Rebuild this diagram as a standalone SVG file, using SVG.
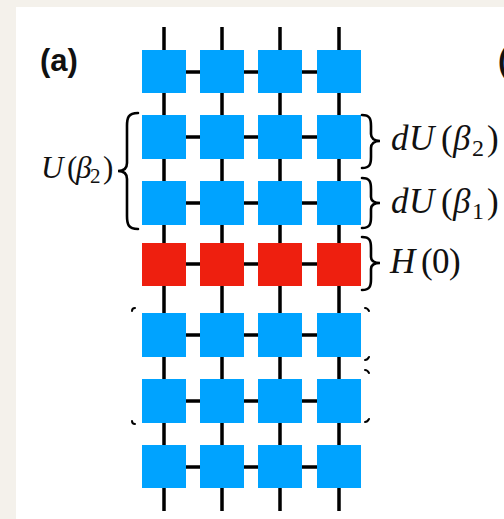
<svg xmlns="http://www.w3.org/2000/svg" width="504" height="519" viewBox="0 0 504 519">
<defs>
<style>
.wire{stroke:#000;stroke-width:3.5;fill:none}
.b{fill:#00A3FF}
.r{fill:#EE1F0F}
.brace{stroke:#000;stroke-width:2.6;fill:none;stroke-linecap:round}
.tick{stroke:#000;stroke-width:2;fill:none;stroke-linecap:round}
.m{font-family:"Liberation Serif",serif;fill:#111}
.it{font-style:italic}
.lab{font-family:"Liberation Sans",Arial,sans-serif;font-weight:bold;font-size:31px;fill:#111}
</style>
</defs>
<rect x="0" y="0" width="504" height="519" fill="#F4F1EB"/>
<rect x="16" y="7" width="488" height="512" fill="#FFFFFF"/>
<g id="connectors">
<path class="wire" d="M164,27V511M222,27V511M280,27V511M339,27V511"/>
<path class="wire" d="M186,72H200M244,72H258M302,72H317"/>
<path class="wire" d="M186,137H200M244,137H258M302,137H317"/>
<path class="wire" d="M186,203H200M244,203H258M302,203H317"/>
<path class="wire" d="M186,264H200M244,264H258M302,264H317"/>
<path class="wire" d="M186,335H200M244,335H258M302,335H317"/>
<path class="wire" d="M186,401H200M244,401H258M302,401H317"/>
<path class="wire" d="M186,467H200M244,467H258M302,467H317"/>
</g>
<g id="row1"><rect class="b" x="142" y="50" width="44" height="43"/><rect class="b" x="200" y="50" width="44" height="43"/><rect class="b" x="258" y="50" width="44" height="43"/><rect class="b" x="317" y="50" width="44" height="43"/></g>
<g id="row2"><rect class="b" x="142" y="115" width="44" height="44"/><rect class="b" x="200" y="115" width="44" height="44"/><rect class="b" x="258" y="115" width="44" height="44"/><rect class="b" x="317" y="115" width="44" height="44"/></g>
<g id="row3"><rect class="b" x="142" y="181" width="44" height="44"/><rect class="b" x="200" y="181" width="44" height="44"/><rect class="b" x="258" y="181" width="44" height="44"/><rect class="b" x="317" y="181" width="44" height="44"/></g>
<g id="row4"><rect class="r" x="142" y="243" width="44" height="43"/><rect class="r" x="200" y="243" width="44" height="43"/><rect class="r" x="258" y="243" width="44" height="43"/><rect class="r" x="317" y="243" width="44" height="43"/></g>
<g id="row5"><rect class="b" x="142" y="313" width="44" height="44"/><rect class="b" x="200" y="313" width="44" height="44"/><rect class="b" x="258" y="313" width="44" height="44"/><rect class="b" x="317" y="313" width="44" height="44"/></g>
<g id="row6"><rect class="b" x="142" y="379" width="44" height="44"/><rect class="b" x="200" y="379" width="44" height="44"/><rect class="b" x="258" y="379" width="44" height="44"/><rect class="b" x="317" y="379" width="44" height="44"/></g>
<g id="row7"><rect class="b" x="142" y="445" width="44" height="43"/><rect class="b" x="200" y="445" width="44" height="43"/><rect class="b" x="258" y="445" width="44" height="43"/><rect class="b" x="317" y="445" width="44" height="43"/></g>
<g id="label-a"><text class="lab" x="40" y="71">(a)</text><text class="lab" x="498" y="71">(</text></g>
<g id="brace-U">
<path class="brace" d="M138,113C128,113 127,118 127,126L127,163C127,168 124,171 118,171C124,171 127,174 127,179L127,216C127,224 128,229 138,229"/>
<text class="m" font-size="31" y="178"><tspan class="it" x="41">U</tspan><tspan x="67">(</tspan><tspan class="it" x="76">β</tspan><tspan x="90" dy="5" font-size="21">2</tspan><tspan x="103" dy="-5">)</tspan></text>
</g>
<g id="brace-dU2">
<path class="brace" d="M362,115C370,115 371,119 371,126L371,134C371,138 374,141 380,141C374,141 371,144 371,148L371,157C371,164 370,168 362,168"/>
<text class="m" font-size="35" y="150"><tspan class="it" x="391">d</tspan><tspan class="it" x="409">U</tspan><tspan x="441">(</tspan><tspan class="it" x="453">β</tspan><tspan x="472" dy="6" font-size="24">2</tspan><tspan x="487" dy="-6">)</tspan></text>
</g>
<g id="brace-dU1">
<path class="brace" d="M362,178C370,178 371,182 371,189L371,197C371,201 374,203 380,203C374,203 371,205 371,209L371,217C371,224 370,228 362,228"/>
<text class="m" font-size="35" y="213"><tspan class="it" x="391">d</tspan><tspan class="it" x="409">U</tspan><tspan x="441">(</tspan><tspan class="it" x="453">β</tspan><tspan x="472" dy="6" font-size="24">1</tspan><tspan x="487" dy="-6">)</tspan></text>
</g>
<g id="brace-H0">
<path class="brace" d="M362,237C370,237 371,241 371,248L371,257C371,261 374,263 380,263C374,263 371,265 371,269L371,279C371,286 370,290 362,290"/>
<text class="m" font-size="35" y="273"><tspan class="it" x="390">H</tspan><tspan x="421">(</tspan><tspan x="432">0</tspan><tspan x="449">)</tspan></text>
</g>
<g id="ticks">
<path class="tick" d="M132,311C132,309 133,308 135,308M132,421C132,423 133,424 135,424"/>
<path class="tick" d="M365,308C367,308 368,309 369,311M365,360C367,360 368,359 369,357M365,370C367,370 368,371 369,373M365,422C367,422 368,421 369,419"/>
</g>
</svg>
